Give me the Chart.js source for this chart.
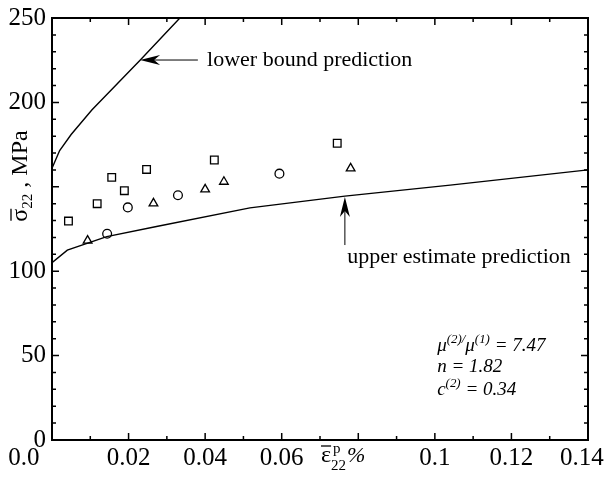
<!DOCTYPE html>
<html><head><meta charset="utf-8">
<script src="https://cdn.jsdelivr.net/npm/chart.js@4/dist/chart.umd.min.js"></script>
<style>html,body{margin:0;padding:0;background:#fff;}#wrap{width:607px;height:480px;}</style>
</head><body><div id="wrap"><canvas id="c" width="607" height="480"></canvas></div>
<script>
// ---- data ----
const squareX = [0.0043, 0.0118, 0.0156, 0.0189, 0.0247, 0.0424, 0.0745];
const squareY = [129.7, 140.0, 155.6, 147.7, 160.3, 165.9, 175.8];
const triangleX = [0.0093, 0.0265, 0.0400, 0.0449, 0.0780];
const triangleY = [118.1, 140.2, 148.5, 153.0, 160.9];
const circleX = [0.0144, 0.0198, 0.0329, 0.0594];
const circleY = [122.2, 137.8, 145.0, 157.8];
const upperX = [0, 0.004, 0.0143, 0.0273, 0.0517, 0.0765, 0.104, 0.14];
const upperY = [105, 112.5, 120.5, 126.5, 137.5, 144.5, 151, 160];
const lowerX = [0, 0.002, 0.005, 0.0104, 0.023, 0.0334, 0.036];
const lowerY = [161, 171.5, 181, 195.5, 225, 250, 256];
const xTickLabels = ['0.0', '0.02', '0.04', '0.06', '', '0.1', '0.12', '0.14'];
const yTickLabels = ['0', '50', '100', '', '200', '250'];

const pts = (xs, ys) => xs.map((x, i) => ({x: x, y: ys[i]}));
const SERIF = "'Liberation Serif', 'Times New Roman', serif";
// label position tweaks (trailing spaces shift the centred edge labels left, as in the reference)
const xLabelPad = ['         ', '', '', '', '', '', '', '  '];

const decor = {
  id: 'decor',
  afterDraw(chart) {
    const ctx = chart.ctx, a = chart.chartArea;
    const xs = chart.scales.x, ys = chart.scales.y;
    ctx.save();
    ctx.strokeStyle = '#000'; ctx.fillStyle = '#000';
    // frame
    ctx.lineWidth = 2;
    ctx.strokeRect(a.left, a.top, a.right - a.left, a.bottom - a.top);
    // inward ticks
    ctx.lineWidth = 1.5;
    ctx.beginPath();
    for (let i = 0; i <= 14; i++) {
      const px = xs.getPixelForValue(i * 0.01);
      const len = i % 2 === 0 ? 7 : 4;
      ctx.moveTo(px, a.bottom); ctx.lineTo(px, a.bottom - len);
      ctx.moveTo(px, a.top); ctx.lineTo(px, a.top + len);
    }
    for (let j = 0; j <= 25; j++) {
      const py = ys.getPixelForValue(j * 10);
      const len = j % 5 === 0 ? 7 : 4;
      ctx.moveTo(a.left, py); ctx.lineTo(a.left + len, py);
      ctx.moveTo(a.right, py); ctx.lineTo(a.right - len, py);
    }
    ctx.stroke();

    // arrows
    function arrow(x0, y0, x1, y1) { // tail -> tip
      const ang = Math.atan2(y1 - y0, x1 - x0);
      const hl = 20, hw = 5;
      ctx.lineWidth = 1;
      ctx.beginPath(); ctx.moveTo(x0, y0);
      ctx.lineTo(x1 - Math.cos(ang) * hl * 0.7, y1 - Math.sin(ang) * hl * 0.7); ctx.stroke();
      ctx.beginPath();
      ctx.moveTo(x1, y1);
      ctx.lineTo(x1 - Math.cos(ang) * hl - Math.sin(ang) * hw, y1 - Math.sin(ang) * hl + Math.cos(ang) * hw);
      ctx.lineTo(x1 - Math.cos(ang) * hl * 0.7, y1 - Math.sin(ang) * hl * 0.7);
      ctx.lineTo(x1 - Math.cos(ang) * hl + Math.sin(ang) * hw, y1 - Math.sin(ang) * hl - Math.cos(ang) * hw);
      ctx.closePath(); ctx.fill();
    }
    arrow(xs.getPixelForValue(0.0381), ys.getPixelForValue(225.1), xs.getPixelForValue(0.0230), ys.getPixelForValue(225.1));
    arrow(xs.getPixelForValue(0.0765), ys.getPixelForValue(115.5), xs.getPixelForValue(0.0765), ys.getPixelForValue(144));

    ctx.font = '22px ' + SERIF;
    ctx.textBaseline = 'middle'; ctx.textAlign = 'left';
    ctx.fillText('lower bound prediction', xs.getPixelForValue(0.0405), ys.getPixelForValue(225.1));
    ctx.textAlign = 'center';
    ctx.fillText('upper estimate prediction', xs.getPixelForValue(0.1063), ys.getPixelForValue(108.4));

    // rich text helper
    function rich(x, y, parts, base) {
      let cx = x;
      ctx.textAlign = 'left'; ctx.textBaseline = 'alphabetic';
      for (const p of parts) {
        const sz = p.s === 'n' ? base : base * 0.68;
        ctx.font = (p.i ? 'italic ' : '') + sz + 'px ' + SERIF;
        const dy = p.s === 'sup' ? -base * 0.42 : (p.s === 'sub' ? base * 0.3 : 0);
        ctx.fillText(p.t, cx, y + dy);
        cx += ctx.measureText(p.t).width;
      }
      return cx;
    }
    const ax = xs.getPixelForValue(0.1006);
    rich(ax, ys.getPixelForValue(53), [
      {t: 'μ', s: 'n', i: 1}, {t: '(2)', s: 'sup', i: 1}, {t: '/', s: 'sup', i: 1},
      {t: 'μ', s: 'n', i: 1}, {t: '(1)', s: 'sup', i: 1}, {t: ' = 7.47', s: 'n', i: 1}], 19);
    rich(ax, ys.getPixelForValue(40), [{t: 'n = 1.82', s: 'n', i: 1}], 19);
    rich(ax, ys.getPixelForValue(26.5), [
      {t: 'c', s: 'n', i: 1}, {t: '(2)', s: 'sup', i: 1}, {t: ' = 0.34', s: 'n', i: 1}], 19);

    // x axis title: eps-bar ^p _22 %
    {
      const bx = 321, by = 462;
      ctx.font = '24px ' + SERIF; ctx.textAlign = 'left'; ctx.textBaseline = 'alphabetic';
      ctx.fillText('ε', bx, by);
      const w = ctx.measureText('ε').width;
      ctx.lineWidth = 1.3;
      ctx.beginPath(); ctx.moveTo(bx, by - 16); ctx.lineTo(bx + w, by - 16); ctx.stroke();
      ctx.font = '15px ' + SERIF;
      ctx.fillText('p', bx + w + 2, by - 9);
      ctx.fillText('22', bx + w, by + 8);
      const w2 = ctx.measureText('22').width;
      ctx.font = 'italic 22px ' + SERIF;
      ctx.fillText('%', bx + w + w2 + 1, by);
    }
    // y axis title rotated: sigma-bar _22 , MPa
    {
      ctx.save();
      ctx.translate(27, 176);
      ctx.rotate(-Math.PI / 2);
      ctx.font = '24px ' + SERIF;
      const ws = ctx.measureText('σ').width;
      ctx.font = '15px ' + SERIF;
      const w22 = ctx.measureText('22').width;
      ctx.font = '24px ' + SERIF;
      const wr = ctx.measureText(' , MPa').width;
      const total = ws + w22 + wr;
      let x0 = -total / 2;
      ctx.textAlign = 'left'; ctx.textBaseline = 'alphabetic';
      ctx.fillText('σ', x0, 0);
      ctx.lineWidth = 1.3;
      ctx.beginPath(); ctx.moveTo(x0 + 1, -16); ctx.lineTo(x0 + ws, -16); ctx.stroke();
      ctx.font = '15px ' + SERIF;
      ctx.fillText('22', x0 + ws, 5);
      ctx.font = '24px ' + SERIF;
      ctx.fillText(' , MPa', x0 + ws + w22, 0);
      ctx.restore();
    }
    ctx.restore();
  }
};

new Chart(document.getElementById('c'), {
  type: 'scatter',
  data: {
    datasets: [
      {data: pts(upperX, upperY), showLine: true, borderColor: '#000', borderWidth: 1.4, pointRadius: 0, tension: 0, fill: false},
      {data: pts(lowerX, lowerY), showLine: true, borderColor: '#000', borderWidth: 1.4, pointRadius: 0, tension: 0, fill: false},
      {data: pts(squareX, squareY), pointStyle: 'rect', pointRadius: 5.4, borderColor: '#000', backgroundColor: 'rgba(0,0,0,0)', pointBorderWidth: 1.3},
      {data: pts(triangleX, triangleY), pointStyle: 'triangle', pointRadius: 5, borderColor: '#000', backgroundColor: 'rgba(0,0,0,0)', pointBorderWidth: 1.3},
      {data: pts(circleX, circleY), pointStyle: 'circle', pointRadius: 4.4, borderColor: '#000', backgroundColor: 'rgba(0,0,0,0)', pointBorderWidth: 1.3}
    ]
  },
  options: {
    responsive: false, animation: false, devicePixelRatio: 1,
    layout: {padding: {top: 18, right: 19, left: 0, bottom: 0}},
    plugins: {legend: {display: false}, tooltip: {enabled: false}},
    scales: {
      x: {
        type: 'linear', min: 0, max: 0.14,
        grid: {display: false, drawTicks: false}, border: {display: false},
        ticks: {stepSize: 0.02, padding: 3, color: '#000', font: {family: SERIF, size: 25},
          maxRotation: 0, autoSkip: false,
          callback: (v, i) => xTickLabels[i] + xLabelPad[i]},
        afterFit: s => { s.height = 40; s.paddingLeft = 0; s.paddingRight = 0; }
      },
      y: {
        type: 'linear', min: 0, max: 250,
        grid: {display: false, drawTicks: false}, border: {display: false},
        ticks: {stepSize: 50, padding: 6, color: '#000', font: {family: SERIF, size: 25},
          autoSkip: false, callback: (v, i) => yTickLabels[i]},
        afterFit: s => { s.width = 52; s.paddingTop = 0; s.paddingBottom = 0; }
      }
    }
  },
  plugins: [decor]
});
</script>
</body></html>
